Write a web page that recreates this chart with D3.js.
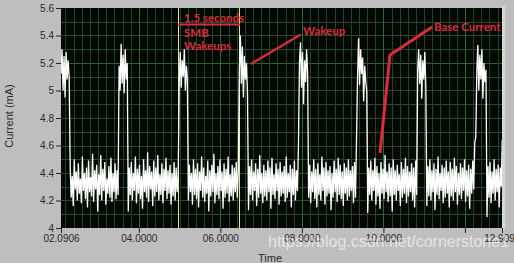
<!DOCTYPE html>
<html><head><meta charset="utf-8">
<script src="https://cdn.jsdelivr.net/npm/d3@7"></script>
<style>html,body{margin:0;padding:0;background:#bebebe;}svg{display:block;}</style>
</head><body>
<svg id="chart" width="514" height="263"></svg>
<script>
// ---- data ----
const sampleStart = 2.0906;   // s
const sampleStep = 0.025;     // s
const currentMa = [
  // wakeup 1
  5.12,5.30,5.00,5.25,4.95,5.28,5.08,5.22,5.10,
  // base
  4.45,4.22,4.38,4.16,4.50,4.28,4.41,4.20,4.47,4.25,4.36,4.18,4.52,4.27,4.40,4.21,4.44,4.15,4.49,4.26,4.37,4.23,4.54,4.19,4.42,4.28,4.46,4.12,4.39,4.24,4.53,4.20,4.43,4.27,4.48,4.17,4.36,4.25,4.45,4.22,4.51,4.19,4.40,4.26,4.47,4.21,4.42,4.24,
  // wakeup 2
  5.18,5.00,5.34,5.05,5.26,4.98,5.30,5.08,5.20,
  // base
  4.12,4.44,4.24,4.48,4.20,4.40,4.27,4.52,4.18,4.43,4.25,4.46,4.21,4.38,4.14,4.50,4.26,4.42,4.22,4.55,4.19,4.45,4.28,4.41,4.16,4.49,4.23,4.44,4.26,4.53,4.20,4.39,4.24,4.47,4.18,4.43,4.27,4.51,4.21,4.42,4.25,4.46,4.17,4.40,4.23,4.48,4.20,4.44,4.26,4.38,
  // wakeup 3
  5.05,5.28,5.02,5.22,5.10,5.30,5.00,5.18,5.08,
  // base
  4.20,4.46,4.26,4.40,4.17,4.50,4.24,4.43,4.21,4.47,4.15,4.41,4.27,4.52,4.22,4.44,4.19,4.38,4.25,4.49,4.12,4.42,4.23,4.46,4.26,4.54,4.18,4.40,4.24,4.45,4.21,4.50,4.27,4.41,4.14,4.47,4.22,4.43,4.25,4.52,4.19,4.39,4.23,4.46,4.20,4.44,4.26,4.48,4.22,4.42,
  // wakeup 4
  5.15,5.40,5.05,5.32,4.95,5.25,5.08,5.20,4.98,
  // base
  4.13,4.45,4.24,4.50,4.20,4.41,4.27,4.47,4.16,4.43,4.22,4.53,4.25,4.40,4.18,4.46,4.23,4.42,4.20,4.49,4.26,4.44,4.14,4.51,4.24,4.39,4.21,4.47,4.27,4.43,4.17,4.48,4.23,4.41,4.25,4.45,4.19,4.52,4.22,4.40,4.26,4.46,4.15,4.43,4.24,4.49,4.20,4.42,4.27,
  // wakeup 5
  4.60,5.20,5.35,5.02,5.28,4.90,5.22,5.06,5.30,5.12,
  // base
  4.22,4.46,4.18,4.41,4.26,4.50,4.21,4.43,4.15,4.47,4.24,4.39,4.20,4.52,4.27,4.44,4.17,4.48,4.23,4.42,4.25,4.45,4.13,4.40,4.22,4.49,4.26,4.43,4.19,4.51,4.24,4.46,4.21,4.41,4.16,4.47,4.25,4.44,4.20,4.50,4.23,4.42,4.27,4.45,4.18,4.48,4.22,4.66,
  // wakeup 6
  5.10,5.38,5.04,5.30,5.12,5.24,4.92,5.18,5.06,5.00,
  // base
  4.11,4.44,4.24,4.49,4.20,4.42,4.27,4.51,4.17,4.45,4.23,4.40,4.14,4.48,4.25,4.43,4.21,4.53,4.26,4.41,4.19,4.47,4.23,4.44,4.12,4.50,4.24,4.42,4.20,4.46,4.27,4.39,4.16,4.48,4.22,4.43,4.25,4.51,4.18,4.45,4.23,4.41,4.26,4.47,4.20,4.44,4.15,4.49,4.24,
  // wakeup 7
  5.15,5.30,5.05,5.26,4.94,5.22,5.08,5.28,5.02,
  // base
  4.16,4.45,4.23,4.50,4.20,4.42,4.26,4.47,4.13,4.43,4.24,4.52,4.21,4.40,4.27,4.46,4.18,4.44,4.22,4.49,4.25,4.41,4.15,4.48,4.23,4.43,4.20,4.51,4.26,4.45,4.17,4.40,4.24,4.47,4.21,4.44,4.27,4.50,4.19,4.42,4.23,4.46,4.14,4.43,4.25,4.49,4.28,4.62,4.66,
  // wakeup 8
  5.12,5.33,5.00,5.26,5.08,5.30,4.94,5.20,5.06,5.15,
  // base
  4.08,4.45,4.22,4.48,4.18,4.41,4.25,4.50,4.20,4.43,4.26,4.46,4.15,4.44,4.30,4.64
];
const cursorTimes = [4.969, 6.469];
const xDomain = [2.0906, 12.909];
const yDomain = [4, 5.6];
const xTickValues = [2.0906, 4, 6, 8, 10, 12, 12.909];
const xTickLabels = ["02.0906", "04.0000", "06.0000", "08.0000", "10.0000", "", "12.909"];
const yTickValues = [4, 4.2, 4.4, 4.6, 4.8, 5, 5.2, 5.4, 5.6];
const yTickLabels = ["4", "4.2", "4.4", "4.6", "4.8", "5", "5.2", "5.4", "5.6"];
const xMinorGrid = d3.range(11, 65).map(k => k / 5);      // every 0.2 s
const yMinorGrid = d3.range(41, 56).map(k => k / 10);     // every 0.1 mA
const xLabel = "Time";
const yLabel = "Current (mA)";
const notes = [
  {text: "1.5 seconds", x: 184, y: 22},
  {text: "SMB", x: 184, y: 37},
  {text: "Wakeups", x: 184, y: 50},
  {text: "Wakeup", x: 303, y: 35},
  {text: "Base Current", x: 434, y: 31}
];

// ---- layout ----
const svg = d3.select("#chart");
const L = 61, R = 502, T = 8, B = 228;
const x = d3.scaleLinear().domain(xDomain).range([L, R]);
const y = d3.scaleLinear().domain(yDomain).range([B, T]);

svg.append("rect").attr("width", 514).attr("height", 263).attr("fill", "#bebebe");
svg.append("rect").attr("x", R).attr("y", T - 2).attr("width", 3).attr("height", B - T + 4).attr("fill", "#d6d6d6");
svg.append("rect").attr("x", L).attr("y", T).attr("width", R - L).attr("height", B - T).attr("fill", "#020802");

const grid = svg.append("g").attr("shape-rendering", "crispEdges");
grid.selectAll("line.hx").data(yMinorGrid).join("line")
  .attr("x1", L).attr("x2", R)
  .attr("y1", d => Math.round(y(d)) + 0.5).attr("y2", d => Math.round(y(d)) + 0.5)
  .attr("stroke", d => Math.abs(d - 5.2) < 1e-6 ? "#26642a" : "#2e4431").attr("stroke-width", 1);
grid.selectAll("line.vx").data(xMinorGrid).join("line")
  .attr("y1", T).attr("y2", B)
  .attr("x1", d => Math.round(x(d)) + 0.5).attr("x2", d => Math.round(x(d)) + 0.5)
  .attr("stroke", d => Math.abs(d - Math.round(d)) < 1e-6 && Math.round(d) % 2 === 0 ? "#2e6a31" : "#2a3f2d")
  .attr("stroke-width", 1);

// cursors
svg.selectAll("line.cur").data(cursorTimes).join("line")
  .attr("x1", d => Math.round(x(d)) + 0.5).attr("x2", d => Math.round(x(d)) + 0.5)
  .attr("y1", T).attr("y2", B).attr("stroke", "#e4e49a").attr("stroke-width", 1)
  .attr("shape-rendering", "crispEdges");

// signal
svg.append("clipPath").attr("id", "plotclip").append("rect")
  .attr("x", L).attr("y", T).attr("width", R - L).attr("height", B - T);
const line = d3.line().x((d, i) => x(sampleStart + i * sampleStep)).y(d => y(d));
svg.append("path").datum(currentMa).attr("clip-path", "url(#plotclip)")
  .attr("d", line).attr("fill", "none").attr("stroke", "#ffffff").attr("stroke-width", 1.3)
  .attr("stroke-linejoin", "bevel");

// axes
const axisFont = "'Liberation Sans', Arial, sans-serif";
const yAxis = svg.append("g").attr("transform", `translate(${L},0)`)
  .call(d3.axisLeft(y).tickValues(yTickValues).tickFormat((d, i) => yTickLabels[i]).tickSize(5).tickPadding(2));
yAxis.select(".domain").remove();
yAxis.selectAll("line").attr("stroke", "#222");
yAxis.selectAll("text").attr("fill", "#2a2a2a").style("font", `10px ${axisFont}`);

const xAxis = svg.append("g").attr("transform", `translate(0,${B})`)
  .call(d3.axisBottom(x).tickValues(xTickValues).tickFormat((d, i) => xTickLabels[i]).tickSize(5).tickPadding(2));
xAxis.select(".domain").remove();
xAxis.selectAll("line").attr("stroke", "#222");
xAxis.selectAll("text").attr("fill", "#2a2a2a").style("font", `10px ${axisFont}`);
xAxis.selectAll(".tick").filter(d => d === 12.909).select("text").attr("dx", -3);

svg.append("text").attr("x", 270).attr("y", 262).attr("text-anchor", "middle")
  .attr("fill", "#2a2a2a").style("font", `11px ${axisFont}`).text(xLabel);
svg.append("text").attr("transform", "translate(13,116) rotate(-90)").attr("text-anchor", "middle")
  .attr("fill", "#2a2a2a").style("font", `11px ${axisFont}`).text(yLabel);

// annotations
const red = "#dc2b3a";
const ann = svg.append("g");
ann.append("line").attr("x1", 178).attr("x2", 240).attr("y1", 24.5).attr("y2", 24.5)
  .attr("stroke", red).attr("stroke-width", 2);
ann.append("path").attr("d", d3.line()([[251.7, 63.5], [300, 35]]))
  .attr("stroke", red).attr("stroke-width", 2.5).attr("fill", "none").attr("stroke-linecap", "round");
ann.append("path").attr("d", d3.line()([[380, 153], [390, 55], [432, 27]]))
  .attr("stroke", red).attr("stroke-width", 3).attr("fill", "none").attr("stroke-linejoin", "round");
ann.selectAll("text").data(notes).join("text")
  .attr("x", d => d.x).attr("y", d => d.y).attr("fill", red)
  .style("font", "bold 11.5px Lato, 'Open Sans', sans-serif").text(d => d.text);

// watermark
svg.append("text").attr("x", 268).attr("y", 247).attr("fill", "#ffffff").attr("fill-opacity", 0.6)
  .style("font", `16px ${axisFont}`).text("https://blog.csdn.net/cornerstone1");
</script>
</body></html>
